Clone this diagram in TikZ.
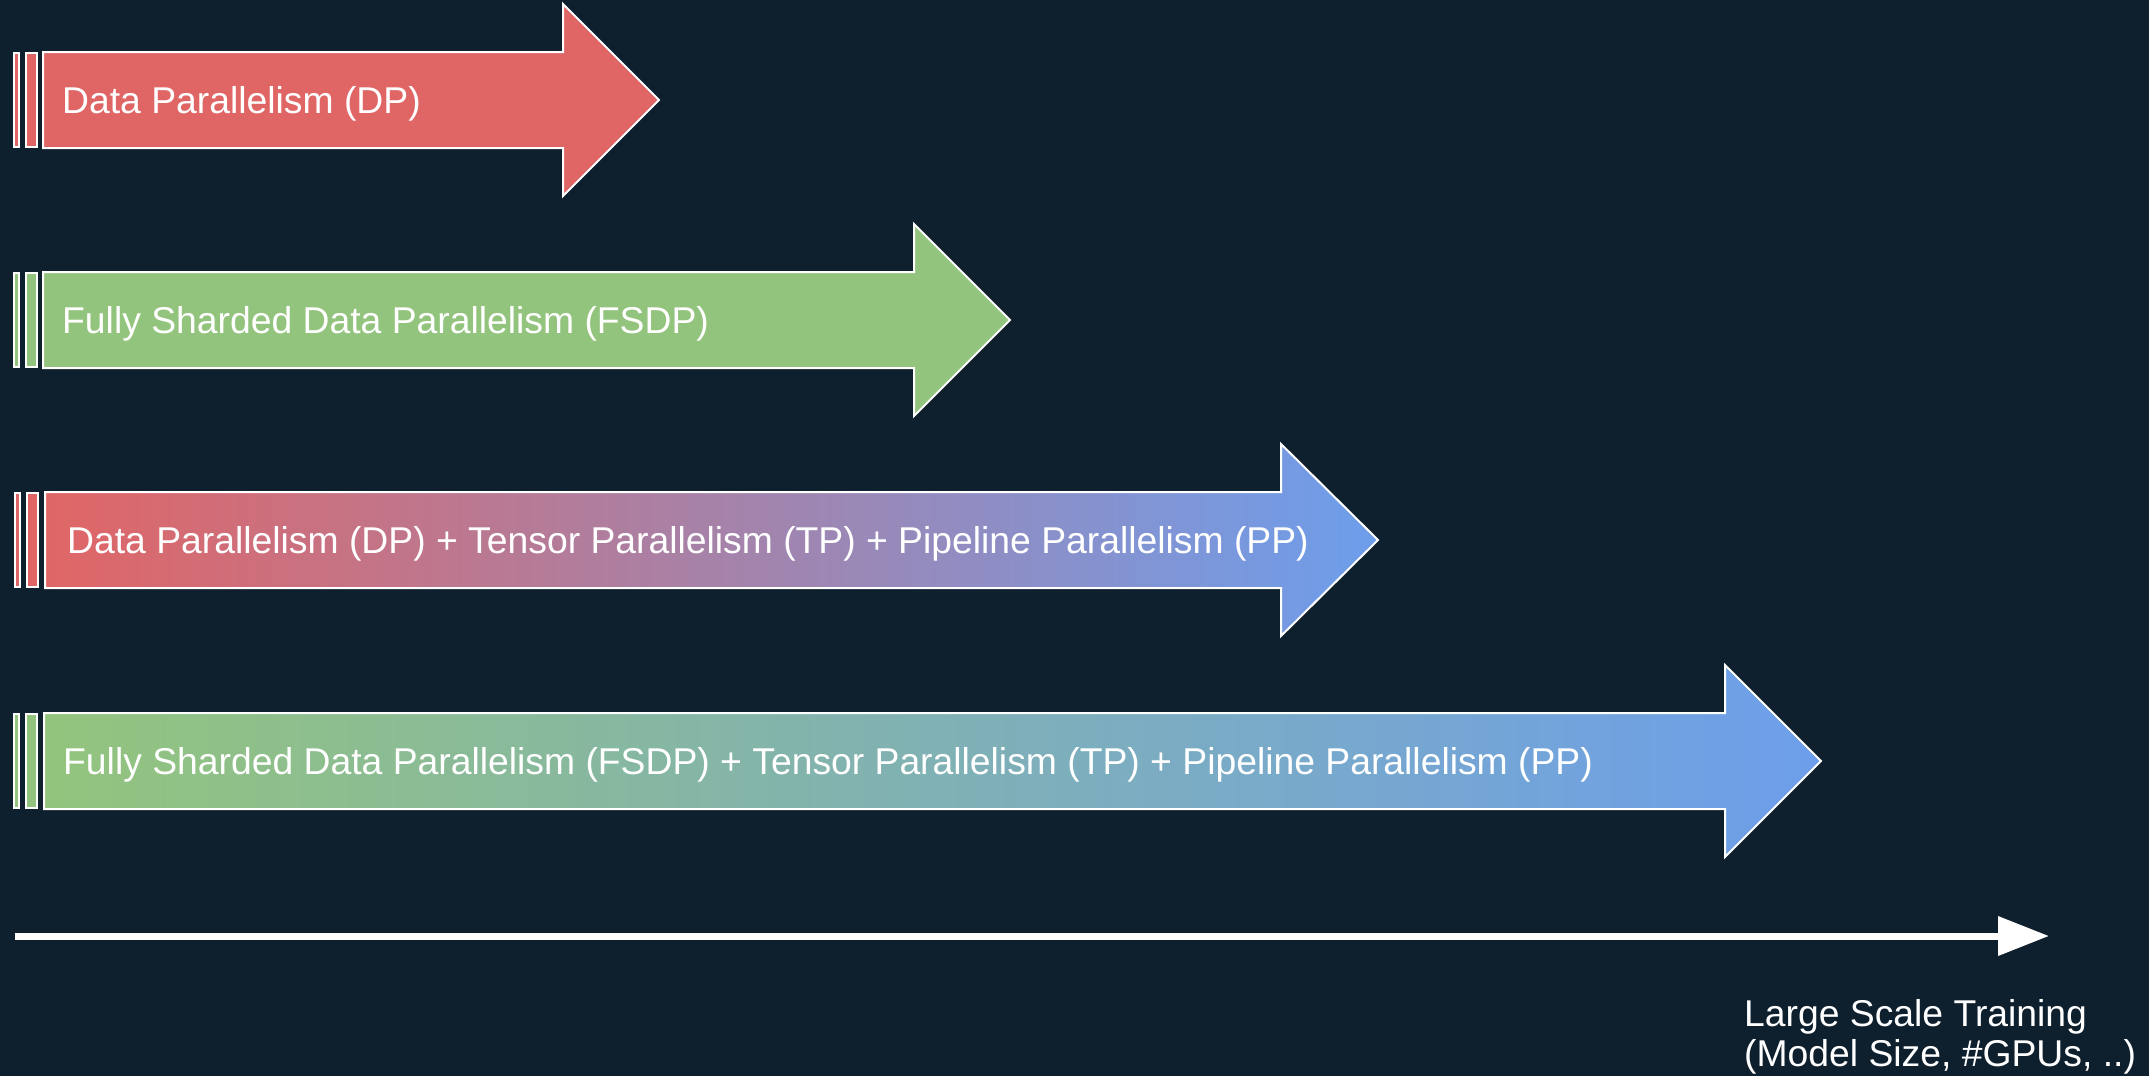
\documentclass[tikz,border=0pt]{standalone}
\usepackage{fontspec}
\setmainfont{Liberation Sans}
\usetikzlibrary{arrows.meta}

\definecolor{bg}{HTML}{0E1F2D}
\definecolor{dpred}{HTML}{E06666}
\definecolor{fsdpgreen}{HTML}{93C47D}
\definecolor{ppblue}{HTML}{6D9EEB}

\tikzset{
  outline/.style={draw=white, line width=2pt, line join=miter},
  lbl/.style={text=white, anchor=base west, inner sep=0pt,
              font=\fontsize{37.3}{44}\selectfont},
  axisline/.style={draw=white, line width=7pt,
                   -{Triangle[length=51pt,width=38pt]}},
}

% block arrow: #1 centre y, #2 body left x, #3 head start x, #4 tip x, #5 fill options
\newcommand\stagearrow[5]{%
  \path[outline,#5] (#2,#1-48) -- (#3,#1-48) -- (#3,#1-96) -- (#4,#1)
    -- (#3,#1+96) -- (#3,#1+48) -- (#2,#1+48) -- cycle;}
% two thin bars in front of an arrow: #1 centre y, #2 x offset, #3 colour
\newcommand\stagebars[3]{%
  \path[outline,fill=#3] (#2+13.5,#1-47) rectangle (#2+18.5,#1+47);
  \path[outline,fill=#3] (#2+25.5,#1-47) rectangle (#2+36.5,#1+47);}

\begin{document}
\begin{tikzpicture}[x=1pt,y=-1pt]
  \fill[bg] (0,0) rectangle (2149,1076);
  \useasboundingbox (0,0) rectangle (2149,1076);

  % DP
  \stagebars{100}{0}{dpred}
  \stagearrow{100}{43}{563}{659}{fill=dpred}
  \node[lbl] (dp) at (62,113) {Data Parallelism (DP)};

  % FSDP
  \stagebars{320}{0}{fsdpgreen}
  \stagearrow{320}{43}{914}{1010}{fill=fsdpgreen}
  \node[lbl] (fsdp) at (62,333) {Fully Sharded Data Parallelism (FSDP)};

  % DP + TP + PP
  \stagebars{540}{1.5}{dpred}
  \stagearrow{540}{45}{1281}{1378}{left color=dpred,right color=ppblue}
  \node[lbl] (dptppp) at (67,553)
    {Data Parallelism (DP) + Tensor Parallelism (TP) + Pipeline Parallelism (PP)};

  % FSDP + TP + PP
  \stagebars{761}{0.5}{fsdpgreen}
  \stagearrow{761}{44}{1725}{1821}{left color=fsdpgreen,right color=ppblue}
  \node[lbl] (fsdptppp) at (63,774)
    {Fully Sharded Data Parallelism (FSDP) + Tensor Parallelism (TP) + Pipeline Parallelism (PP)};

  % scale axis
  \coordinate (axstart) at (15,936);
  \coordinate (axend) at (2049,936);
  \draw[axisline] (axstart) -- (axend);
  \node[lbl, anchor=south west, align=left,
        font=\fontsize{37.3}{40}\selectfont] (scale) at (1744,1074)
    {Large Scale Training\\(Model Size, \#GPUs, ..)};
\end{tikzpicture}
\end{document}
